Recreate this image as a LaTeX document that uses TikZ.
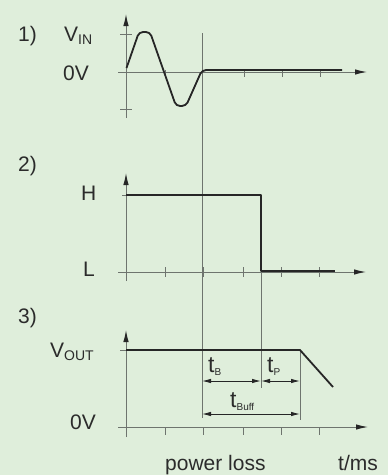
\documentclass[tikz,border=0pt]{standalone}
\usepackage{fontspec}
\setmainfont{Liberation Sans}
\usetikzlibrary{arrows.meta,positioning}
\definecolor{bgcol}{HTML}{DFEEDB}
\definecolor{axcol}{HTML}{6E746E}
\definecolor{sigcol}{HTML}{262626}
\definecolor{txtcol}{HTML}{2B2B2B}
\newcommand{\Vsub}[1]{V\raisebox{-3pt}{\fontsize{14}{14}\selectfont #1}}
\newcommand{\tsub}[1]{{\fontsize{23}{26}\selectfont t}\raisebox{-3.5pt}{\fontsize{10}{10}\selectfont #1}}

\begin{document}
\begin{tikzpicture}[x=1pt,y=-1pt,
    ax/.style={-{Latex[length=12pt,width=5.5pt,color=sigcol]},line width=1pt,axcol},
    tickmark/.style={line width=0.9pt,axcol},
    marker/.style={line width=1pt,axcol},
    sig/.style={line width=1.8pt,sigcol,line join=round},
    dim/.style={{Latex[length=9pt,width=4.5pt]}-{Latex[length=9pt,width=4.5pt]},line width=0.9pt,sigcol},
    lbl/.style={font=\fontsize{21}{24}\selectfont,text=txtcol,inner sep=0pt}
  ]
  \fill[bgcol] (0,0) rectangle (388,475);
  \useasboundingbox (0,0) rectangle (388,475);

  % power loss and switch-over marks
  \draw[marker] (202,33) -- (202,418);
  \draw[marker] (261,195) -- (261,388);
  \draw[marker] (300,350) -- (300,420);

  % 1) input voltage
  \draw[ax] (118,72) -- (367,72);
  \draw[ax] (126,118) -- (126,14);
  \foreach \x in {165,244,282,320}
    \draw[tickmark] (\x,70) -- (\x,77);
  \foreach \y in {34,109}
    \draw[tickmark] (120,\y) -- (132,\y);
  \draw[sig,rounded corners=4pt] (126.5,68) -- (139,32) -- (150,32) -- (176,106)
    -- (186,106) -- (202,70) -- (342,70);
  \node[lbl,anchor=base west] (n1) at (18,41) {1)};
  \node[lbl,anchor=base west] (vin) at (64,41) {\Vsub{IN}};
  \node[lbl,anchor=base east] (zero1) at (89,80) {0V};

  % 2) signal
  \draw[ax] (118,272) -- (366,272);
  \draw[ax] (126,281) -- (126,173);
  \foreach \x in {165,203,243,281,319}
    \draw[tickmark] (\x,267) -- (\x,277);
  \draw[tickmark] (122,195) -- (130,195);
  \draw[sig] (126,195) -- (261,195) -- (261,271) -- (335,271);
  \node[lbl,anchor=base west] (n2) at (18,171) {2)};
  \node[lbl,anchor=base west] (high) at (81,200) {H};
  \node[lbl,anchor=base west] (low) at (83,276) {L};

  % 3) output voltage
  \draw[ax] (118,427) -- (368,427);
  \draw[ax] (126,437) -- (126,330);
  \foreach \x in {165,203,243,281,319}
    \draw[tickmark] (\x,427) -- (\x,435);
  \draw[tickmark] (120,350) -- (132,350);
  \draw[sig] (126,350) -- (300,350) -- (333,387);
  \node[lbl,anchor=base west] (n3) at (18,323) {3)};
  \node[lbl,anchor=base west] (vout) at (50,357) {\Vsub{OUT}};
  \node[lbl,anchor=base east] (zero3) at (96,429) {0V};

  % buffer times
  \coordinate (b1) at (202,381);
  \coordinate (b2) at (261,381);
  \coordinate (b3) at (300,381);
  \coordinate (c1) at (202,414);
  \coordinate (c2) at (300,414);
  \draw[dim] (b1) -- (b2);
  \draw[dim] (b2) -- (b3);
  \draw[dim] (c1) -- (c2);
  \node[lbl,anchor=base west] (tb) at (208,372) {\tsub{B}};
  \node[lbl,anchor=base west] (tp) at (267,372) {\tsub{P}};
  \node[lbl,anchor=base west] (tbuff) at (230,407) {\tsub{Buff}};

  \node[lbl,anchor=base west] (ploss) at (165,470) {power loss};
  \node[lbl,anchor=base west] (tms) at (338,470) {t/ms};
\end{tikzpicture}
\end{document}
